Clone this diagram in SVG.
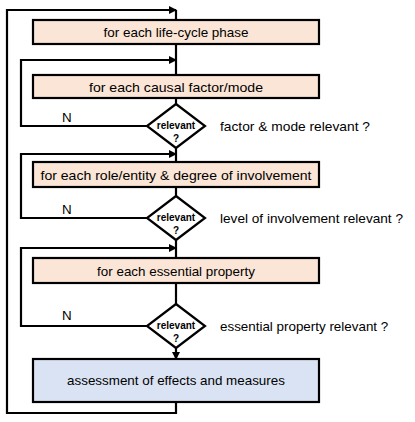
<svg xmlns="http://www.w3.org/2000/svg" width="415" height="422" viewBox="0 0 415 422">
<defs>
<style>
.box{stroke:#000;stroke-width:2.2}
.peach{fill:#fbe5d6}
.blue{fill:#dae3f3}
.dia{fill:#fff;stroke:#000;stroke-width:2.2}
.ln{fill:none;stroke:#000;stroke-width:2.2}
.t{font-family:"Liberation Sans",Arial,sans-serif;font-size:13.4px;fill:#000}
.bt{font-family:"Liberation Sans",Arial,sans-serif;font-size:10px;font-weight:bold;fill:#000}
</style>
<marker id="ah" markerWidth="8" markerHeight="8" refX="7" refY="4" orient="auto" markerUnits="userSpaceOnUse">
<path d="M0,0 L8,4 L0,8 Z" fill="#000"/>
</marker>
</defs>
<rect width="415" height="422" fill="#fff"/>
<g id="connectors">
<path class="ln" d="M176,402 V413 H7 V10 H176" marker-end="url(#ah)"/>
<path class="ln" d="M176,10 V20"/>
<path class="ln" d="M176,44 V75"/>
<path class="ln" d="M147,126 H21 V60 H176" marker-end="url(#ah)"/>
<path class="ln" d="M176,98 V104"/>
<path class="ln" d="M176,148 V162"/>
<path class="ln" d="M147,218 H21 V154 H176" marker-end="url(#ah)"/>
<path class="ln" d="M176,187 V196"/>
<path class="ln" d="M176,240 V258"/>
<path class="ln" d="M147,326 H21 V248 H176" marker-end="url(#ah)"/>
<path class="ln" d="M176,283 V304"/>
<path class="ln" d="M176,348 V359" marker-end="url(#ah)"/>
<text class="t" x="62" y="122">N</text>
<text class="t" x="62" y="214">N</text>
<text class="t" x="62" y="320">N</text>
</g>
<g id="box1">
<rect class="box peach" x="33" y="20" width="286" height="24"/>
<text class="t" x="176" y="37" text-anchor="middle" textLength="145" lengthAdjust="spacingAndGlyphs">for each life-cycle phase</text>
</g>
<g id="box2">
<rect class="box peach" x="33" y="75" width="286" height="23"/>
<text class="t" x="176" y="91.5" text-anchor="middle" textLength="174" lengthAdjust="spacingAndGlyphs">for each causal factor/mode</text>
</g>
<g id="dec1">
<polygon class="dia" points="176,104 205,126 176,148 147,126"/>
<text class="bt" x="176" y="129" text-anchor="middle">relevant</text>
<text class="bt" x="176" y="142" text-anchor="middle">?</text>
<text class="t" x="220" y="131" textLength="150" lengthAdjust="spacingAndGlyphs">factor &amp; mode relevant ?</text>
</g>
<g id="box3">
<rect class="box peach" x="33" y="162" width="286" height="25"/>
<text class="t" x="176" y="179.5" text-anchor="middle" textLength="271" lengthAdjust="spacingAndGlyphs">for each role/entity &amp; degree of involvement</text>
</g>
<g id="dec2">
<polygon class="dia" points="176,196 205,218 176,240 147,218"/>
<text class="bt" x="176" y="221" text-anchor="middle">relevant</text>
<text class="bt" x="176" y="234" text-anchor="middle">?</text>
<text class="t" x="220" y="223" textLength="183" lengthAdjust="spacingAndGlyphs">level of involvement relevant ?</text>
</g>
<g id="box4">
<rect class="box peach" x="33" y="258" width="286" height="25"/>
<text class="t" x="176" y="275.5" text-anchor="middle">for each essential property</text>
</g>
<g id="dec3">
<polygon class="dia" points="176,304 205,326 176,348 147,326"/>
<text class="bt" x="176" y="329" text-anchor="middle">relevant</text>
<text class="bt" x="176" y="342" text-anchor="middle">?</text>
<text class="t" x="220" y="331">essential property relevant ?</text>
</g>
<g id="box5">
<rect class="box blue" x="33" y="359" width="286" height="43"/>
<text class="t" x="176" y="385" text-anchor="middle">assessment of effects and measures</text>
</g>
</svg>
